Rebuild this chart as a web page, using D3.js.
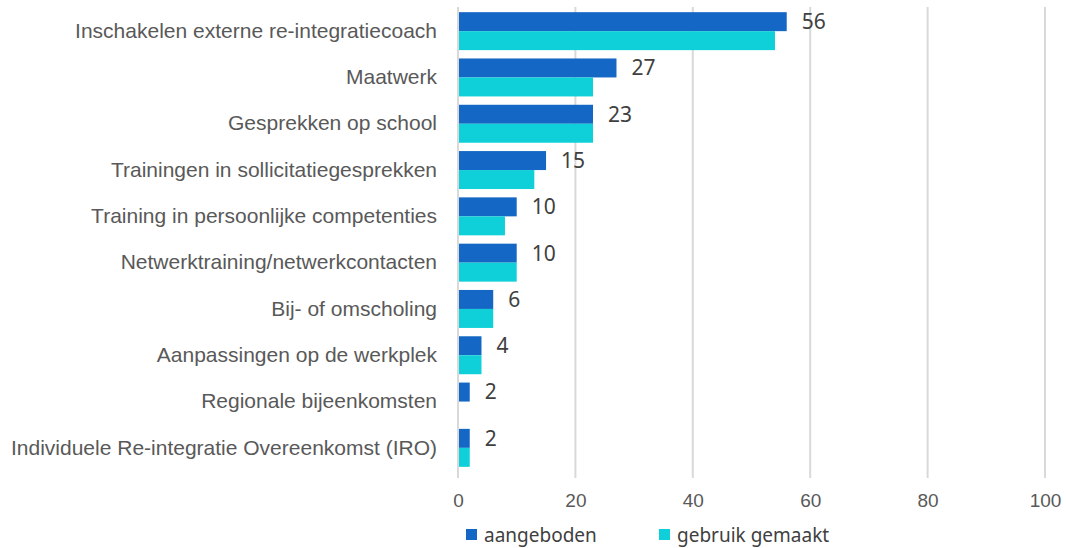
<!DOCTYPE html>
<html>
<head>
<meta charset="utf-8">
<style>
  body { margin: 0; background: #fff; font-family: "Noto Sans", sans-serif; }
  .cat text { fill: #595959; font-size: 21px; }
  .xaxis text { fill: #595959; font-size: 19px; }
  .val { fill: #404040; font-size: 21px; }
  .legend text { fill: #404040; font-size: 19px; }
</style>
</head>
<body>
<script src="https://d3js.org/d3.v7.min.js"></script>
<script>
// data
var categories = [
  "Inschakelen externe re-integratiecoach",
  "Maatwerk",
  "Gesprekken op school",
  "Trainingen in sollicitatiegesprekken",
  "Training in persoonlijke competenties",
  "Netwerktraining/netwerkcontacten",
  "Bij- of omscholing",
  "Aanpassingen op de werkplek",
  "Regionale bijeenkomsten",
  "Individuele Re-integratie Overeenkomst (IRO)"
];
var aangeboden = [56, 27, 23, 15, 10, 10, 6, 4, 2, 2];
var gebruikGemaakt = [54, 23, 23, 13, 8, 10, 6, 4, 0, 2];
var seriesNames = ["aangeboden", "gebruik gemaakt"];
var xTicks = [0, 20, 40, 60, 80, 100];

var colors = ["#1467c4", "#0fcfd8"];

var W = 1066, H = 548;
var margin = {left: 458, right: 1045, top: 8, bottom: 471};

var svg = d3.select("body").append("svg")
  .attr("width", W).attr("height", H);

var x = d3.scaleLinear().domain([0, 100]).range([margin.left, margin.right]);
var y = d3.scaleBand().domain(categories).range([margin.top, margin.bottom]).paddingInner(0.18).paddingOuter(0.09);
var sub = d3.scaleBand().domain(seriesNames).range([0, y.bandwidth()]);

// gridlines
svg.append("g").selectAll("line")
  .data(xTicks.slice(1))
  .enter().append("line")
  .attr("x1", function(d) { return x(d); })
  .attr("x2", function(d) { return x(d); })
  .attr("y1", 7).attr("y2", 478)
  .attr("stroke", "#d9d9d9").attr("stroke-width", 2);

// bars
var rows = svg.append("g").selectAll("g")
  .data(categories)
  .enter().append("g")
  .attr("transform", function(d) { return "translate(0," + y(d) + ")"; });

rows.append("rect")
  .attr("x", x(0))
  .attr("y", sub("aangeboden"))
  .attr("height", sub.bandwidth())
  .attr("width", function(d, i) { return x(aangeboden[i]) - x(0); })
  .attr("fill", colors[0]);

rows.append("rect")
  .attr("x", x(0))
  .attr("y", sub("gebruik gemaakt"))
  .attr("height", sub.bandwidth())
  .attr("width", function(d, i) { return x(gebruikGemaakt[i]) - x(0); })
  .attr("fill", colors[1]);

// value labels on the aangeboden bars
rows.append("text")
  .attr("class", "val")
  .attr("x", function(d, i) { return x(aangeboden[i]) + 15; })
  .attr("y", sub("aangeboden") + sub.bandwidth() / 2)
  .attr("dy", "0.35em")
  .text(function(d, i) { return aangeboden[i]; });

// axis line at zero
svg.append("line")
  .attr("x1", x(0)).attr("x2", x(0))
  .attr("y1", 7).attr("y2", 478)
  .attr("stroke", "#d9d9d9").attr("stroke-width", 2);

// category labels
svg.append("g")
  .attr("class", "cat")
  .attr("transform", "translate(" + (margin.left - 21) + ",0)")
  .call(d3.axisLeft(y).tickSize(0).tickPadding(0))
  .call(function(g) { g.select(".domain").remove(); })
  .selectAll("text").attr("font-family", null).attr("font-size", null);

// x axis labels
svg.append("g")
  .attr("class", "xaxis")
  .attr("transform", "translate(0,493)")
  .call(d3.axisBottom(x).tickValues(xTicks).tickSize(0).tickPadding(0))
  .call(function(g) { g.select(".domain").remove(); })
  .selectAll("text").attr("font-family", null).attr("font-size", null);

// legend
var legendX = [466, 659];
var legend = svg.append("g").attr("class", "legend")
  .selectAll("g").data(seriesNames).enter().append("g")
  .attr("transform", function(d, i) { return "translate(" + legendX[i] + ",535)"; });
legend.append("rect")
  .attr("x", 0).attr("y", -6).attr("width", 11).attr("height", 11)
  .attr("fill", function(d, i) { return colors[i]; });
legend.append("text")
  .attr("x", 18).attr("dy", "0.35em")
  .text(function(d) { return d; });
</script>
</body>
</html>
